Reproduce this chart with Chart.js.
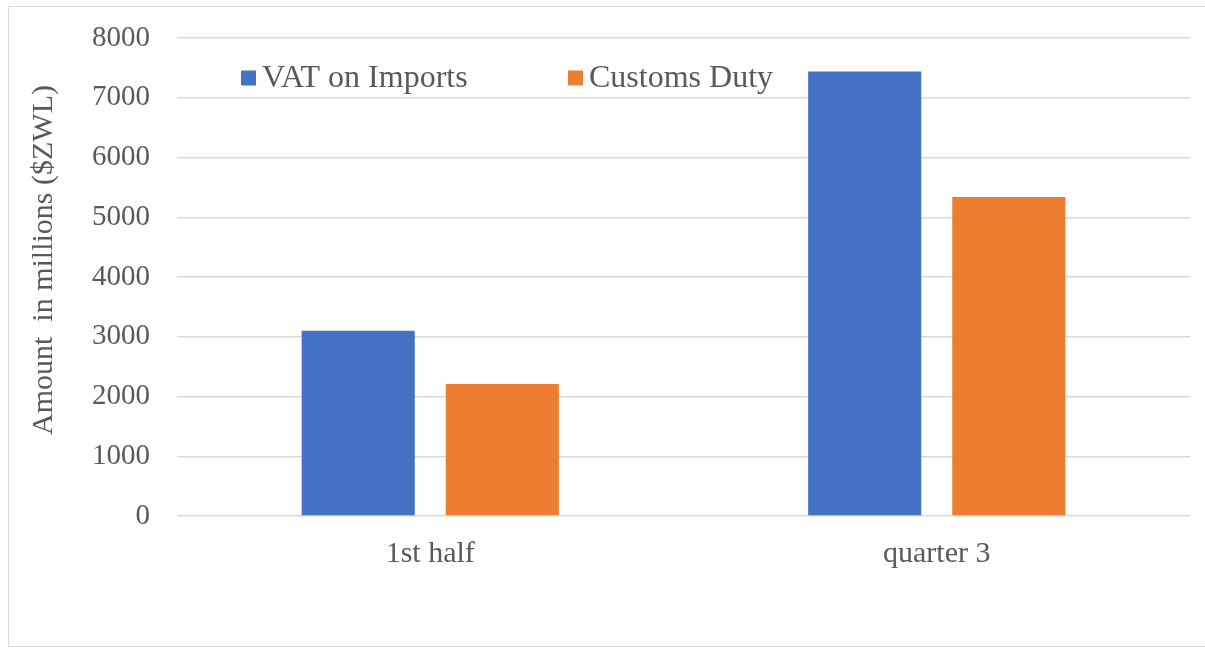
<!DOCTYPE html>
<html>
<head>
<meta charset="utf-8">
<script src="https://cdn.jsdelivr.net/npm/chart.js@4.4.0/dist/chart.umd.min.js"></script>
<style>
  html, body { margin: 0; padding: 0; background: #ffffff; }
  #wrap { position: absolute; left: 0; top: 0; width: 1205px; height: 652px; }
  #frame { position: absolute; left: 8px; top: 6px; width: 1210px; height: 641px; border: 1px solid #d9d9d9; box-sizing: border-box; }
  canvas { position: absolute; left: 0; top: 0; }
</style>
</head>
<body>
<div id="wrap">
  <div id="frame"></div>
  <canvas id="c" width="1205" height="652"></canvas>
</div>
<script>
const categories = ["1st half", "quarter 3"];
const vatOnImports = [3100, 7440];
const customsDuty = [2210, 5340];
const yTicks = [0, 1000, 2000, 3000, 4000, 5000, 6000, 7000, 8000];
const seriesNames = ["VAT on Imports", "Customs Duty"];
const seriesColors = ["#4472C4", "#ED7D31"];
const yTitle = "Amount  in millions ($ZWL)";

const TEXT = "#595959";
const FONT = "'Liberation Serif', 'Times New Roman', serif";

const extras = {
  id: 'extras',
  afterDraw(chart) {
    const ctx = chart.ctx;
    const area = chart.chartArea;
    ctx.save();
    // legend inside plot area
    ctx.font = "32px " + FONT;
    ctx.textBaseline = 'middle';
    ctx.textAlign = 'left';
    const offsets = [64, 391];
    const cy = area.top + 40;
    const box = 15;
    chart.data.datasets.forEach((ds, i) => {
      const x = area.left + offsets[i];
      ctx.fillStyle = ds.backgroundColor;
      ctx.fillRect(x, cy - box / 2, box, box);
      ctx.fillStyle = TEXT;
      ctx.fillText(ds.label, x + box + 6, cy + 1);
    });
    // y axis title
    ctx.font = "30px " + FONT;
    ctx.textAlign = 'center';
    ctx.textBaseline = 'middle';
    ctx.translate(44, (area.top + area.bottom) / 2 - 17);
    ctx.rotate(-Math.PI / 2);
    ctx.fillText(yTitle, 0, 0);
    ctx.restore();
  }
};

new Chart(document.getElementById('c'), {
  type: 'bar',
  data: {
    labels: categories,
    datasets: [
      { label: seriesNames[0], data: vatOnImports, backgroundColor: seriesColors[0] },
      { label: seriesNames[1], data: customsDuty, backgroundColor: seriesColors[1] }
    ]
  },
  options: {
    responsive: false,
    animation: false,
    devicePixelRatio: 1,
    layout: { padding: { left: 10, right: 15, top: 38, bottom: 0 } },
    datasets: { bar: { categoryPercentage: 0.569, barPercentage: 0.785 } },
    plugins: { legend: { display: false }, tooltip: { enabled: false } },
    scales: {
      x: {
        grid: { display: false, drawTicks: false },
        border: { display: false },
        ticks: { color: TEXT, font: { family: FONT, size: 30 }, padding: 20 },
        afterFit(scale) { scale.height = 652 - 516; }
      },
      y: {
        min: 0, max: 8000,
        afterBuildTicks(scale) { scale.ticks = yTicks.map(v => ({ value: v })); },
        grid: { color: '#d9d9d9', lineWidth: 1.5, drawTicks: false },
        border: { display: false },
        ticks: { color: TEXT, font: { family: FONT, size: 29 }, padding: 27, callback: (v) => String(v) },
        afterFit(scale) { scale.width = 177 - 10; scale.paddingTop = 0; scale.paddingBottom = 0; }
      }
    }
  },
  plugins: [extras]
});
</script>
</body>
</html>
